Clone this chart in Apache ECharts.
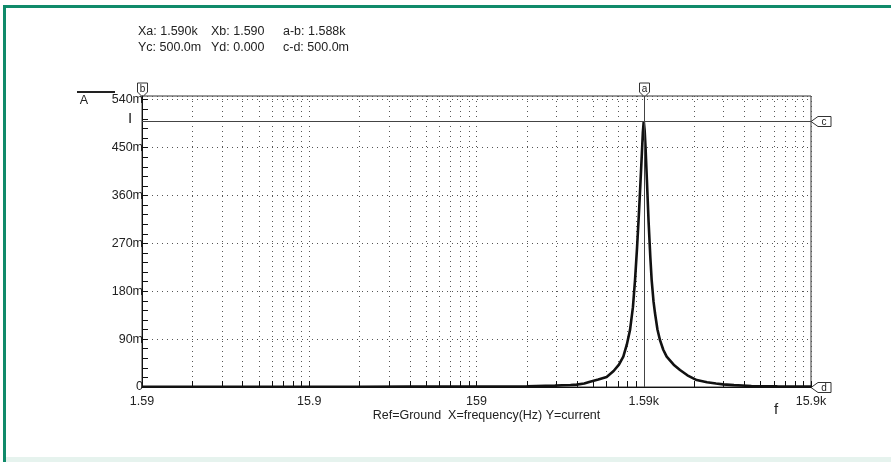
<!DOCTYPE html>
<html><head><meta charset="utf-8">
<script src="https://cdn.jsdelivr.net/npm/echarts@6/dist/echarts.min.js"></script>
<style>html,body{margin:0;padding:0;background:#fff}#c{width:891px;height:462px}</style>
</head><body><div id="c"></div>
<script>
// ---- data ----
const freqHz = [1.59, 3.18, 6.36, 15.9, 31.8, 63.6, 159, 318, 468, 520, 580, 631, 700, 759, 850, 954, 1050, 1130, 1200, 1260, 1316, 1370, 1410, 1450, 1490, 1520, 1550, 1570, 1590, 1610, 1630, 1660, 1700, 1740, 1773, 1820, 1856, 1920, 1989, 2080, 2180, 2400, 2619, 2900, 3296, 3800, 4300, 4735, 5500, 7000, 10000, 15900];
const currentMA = [0.5, 0.5, 0.5, 0.6, 0.6, 0.7, 0.9, 1.2, 2.5, 3.2, 3.8, 4.5, 6.5, 10, 14, 19, 30, 42, 57, 80, 107, 150, 201, 262, 330, 385, 440, 478, 500, 482, 450, 390, 310, 245, 201, 160, 139, 108, 88, 70, 57, 42, 32, 22, 13, 9, 6.5, 5, 3.5, 2, 1.2, 0.8];
const yLabelValues = [0, 90, 180, 270, 360, 450, 540];
const yTickValues = [0, 18, 36, 54, 72, 90, 108, 126, 144, 162, 180, 198, 216, 234, 252, 270, 288, 306, 324, 342, 360, 378, 396, 414, 432, 450, 468, 486, 504, 522, 540];
const xLabelValues = [1.59, 15.9, 159, 1590, 15900];
const xLabelTexts = ['1.59', '15.9', '159', '1.59k', '15.9k'];
const xGridValues = [1.59, 3.18, 4.77, 6.36, 7.95, 9.54, 11.13, 12.72, 14.31, 15.9, 31.8, 47.7, 63.6, 79.5, 95.4, 111.3, 127.2, 143.1, 159, 318, 477, 636, 795, 954, 1113, 1272, 1431, 1590, 3180, 4770, 6360, 7950, 9540, 11130, 12720, 14310, 15900];
const xMin = 1.59, xMax = 15900, yMin = 0, yMax = 547;
const cursorA = 1590, cursorB = 1.59, cursorC = 500, cursorD = 0;
const headerRow1 = ['Xa: 1.590k', 'Xb: 1.590', 'a-b: 1.588k'];
const headerRow2 = ['Yc: 500.0m', 'Yd: 0.000', 'c-d: 500.0m'];
const xAxisTitle = 'Ref=Ground  X=frequency(Hz) Y=current';

const FONT = '"Liberation Sans", Arial, sans-serif';
const TXT = '#222';
const chart = echarts.init(document.getElementById('c'), null, {renderer: 'canvas'});

function xLabel(v) {
  for (let i = 0; i < xLabelValues.length; i++) {
    if (Math.abs(Math.log10(v) - Math.log10(xLabelValues[i])) < 1e-4) return xLabelTexts[i];
  }
  return '';
}

const option = {
  animation: false,
  backgroundColor: '#fff',
  grid: {left: 142, top: 96, right: 80, bottom: 75, show: true, borderColor: '#333', borderWidth: 1, backgroundColor: 'transparent'},
  xAxis: {
    type: 'log', logBase: 10, min: xMin, max: xMax,
    axisLine: {show: true, onZero: false, lineStyle: {color: '#111', width: 1}},
    axisTick: {show: true, inside: true, length: 6, customValues: xGridValues, lineStyle: {color: '#111'}},
    axisLabel: {customValues: xLabelValues, formatter: xLabel, margin: 8, color: TXT, fontFamily: FONT, fontSize: 12.5},
    splitLine: {show: true, customValues: xGridValues, lineStyle: {color: '#555', width: 1, type: [1, 4]}},
    minorTick: {show: false}
  },
  yAxis: [{
    type: 'value', min: yMin, max: yMax, interval: 90,
    axisLine: {show: true, lineStyle: {color: '#111', width: 1}},
    axisTick: {show: false},
    axisLabel: {customValues: yLabelValues, formatter: v => v === 0 ? '0' : v + 'm', margin: -1, color: TXT, fontFamily: FONT, fontSize: 12.5},
    splitLine: {show: true, lineStyle: {color: '#555', width: 1, type: [1, 4]}}
  }, {
    type: 'value', min: yMin, max: yMax, position: 'left',
    axisLine: {show: false},
    axisTick: {show: true, inside: true, length: 6, customValues: yTickValues, lineStyle: {color: '#111'}},
    axisLabel: {show: false},
    splitLine: {show: false}
  }],
  series: [{
    type: 'line', xAxisIndex: 0, yAxisIndex: 0,
    data: freqHz.map((f, i) => [f, currentMA[i]]),
    symbol: 'none', smooth: false, clip: true,
    lineStyle: {color: '#111', width: 2.6},
    markLine: {
      silent: true, symbol: 'none', label: {show: false},
      lineStyle: {color: '#444', width: 1, type: 'solid'},
      data: [{xAxis: cursorA}, {yAxis: cursorC}]
    }
  }]
};
chart.setOption(option);

const els = [];
// green frame
els.push({type: 'rect', shape: {x: 3, y: 5, width: 3, height: 457}, style: {fill: '#108a6a'}});
els.push({type: 'rect', shape: {x: 3, y: 5, width: 888, height: 3}, style: {fill: '#108a6a'}});
els.push({type: 'rect', shape: {x: 6, y: 457, width: 885, height: 5}, style: {fill: '#e6f3ee'}});
// header
const cols = [138, 211, 283];
[headerRow1, headerRow2].forEach((row, r) => {
  row.forEach((t, c) => {
    els.push({type: 'text', x: cols[c], y: 32 + r * 16, style: {text: t, fill: TXT, font: '12.5px ' + FONT, textVerticalAlign: 'middle'}});
  });
});
// trace legend
els.push({type: 'line', shape: {x1: 77, y1: 92, x2: 115, y2: 92}, style: {stroke: '#222', lineWidth: 2}});
els.push({type: 'text', x: 84, y: 101, style: {text: 'A', fill: TXT, font: '12.5px ' + FONT, textAlign: 'center', textVerticalAlign: 'middle'}});
els.push({type: 'text', x: 130, y: 119, style: {text: 'I', fill: '#222', font: '15px ' + FONT, textAlign: 'center', textVerticalAlign: 'middle'}});
els.push({type: 'text', x: 776, y: 410, style: {text: 'f', fill: TXT, font: '15px ' + FONT, textAlign: 'center', textVerticalAlign: 'middle'}});

// axis title
const pL = chart.convertToPixel({xAxisIndex: 0, yAxisIndex: 0}, [xMin, yMin]);
const pR = chart.convertToPixel({xAxisIndex: 0, yAxisIndex: 0}, [xMax, yMax]);
els.push({type: 'text', x: (pL[0] + pR[0]) / 2 + 10, y: pL[1] + 29, style: {text: xAxisTitle, fill: TXT, font: '12.5px ' + FONT, textAlign: 'center', textVerticalAlign: 'middle'}});

// cursor markers
function topMarker(xVal, letter) {
  const p = chart.convertToPixel({xAxisIndex: 0, yAxisIndex: 0}, [xVal, yMax]);
  const x = Math.round(p[0]) + 0.5, y = Math.round(p[1]);
  els.push({type: 'polygon', shape: {points: [[x - 5, y - 13], [x + 5, y - 13], [x + 5, y - 4], [x + 1, y], [x - 1, y], [x - 5, y - 4]]}, style: {fill: '#fff', stroke: '#333', lineWidth: 1}});
  els.push({type: 'text', x: x, y: y - 7, style: {text: letter, fill: '#222', font: '10px ' + FONT, textAlign: 'center', textVerticalAlign: 'middle'}});
}
function rightMarker(yVal, letter) {
  const p = chart.convertToPixel({xAxisIndex: 0, yAxisIndex: 0}, [xMax, yVal]);
  const x = Math.round(p[0]), y = Math.round(p[1]) + 0.5;
  els.push({type: 'polygon', shape: {points: [[x, y], [x + 7, y - 5], [x + 20, y - 5], [x + 20, y + 5], [x + 7, y + 5]]}, style: {fill: '#fff', stroke: '#333', lineWidth: 1}});
  els.push({type: 'text', x: x + 13, y: y + 1, style: {text: letter, fill: '#222', font: '10px ' + FONT, textAlign: 'center', textVerticalAlign: 'middle'}});
}
topMarker(cursorB, 'b');
topMarker(cursorA, 'a');
rightMarker(cursorC, 'c');
rightMarker(cursorD, 'd');

chart.setOption({graphic: {elements: els}});
</script></body></html>
